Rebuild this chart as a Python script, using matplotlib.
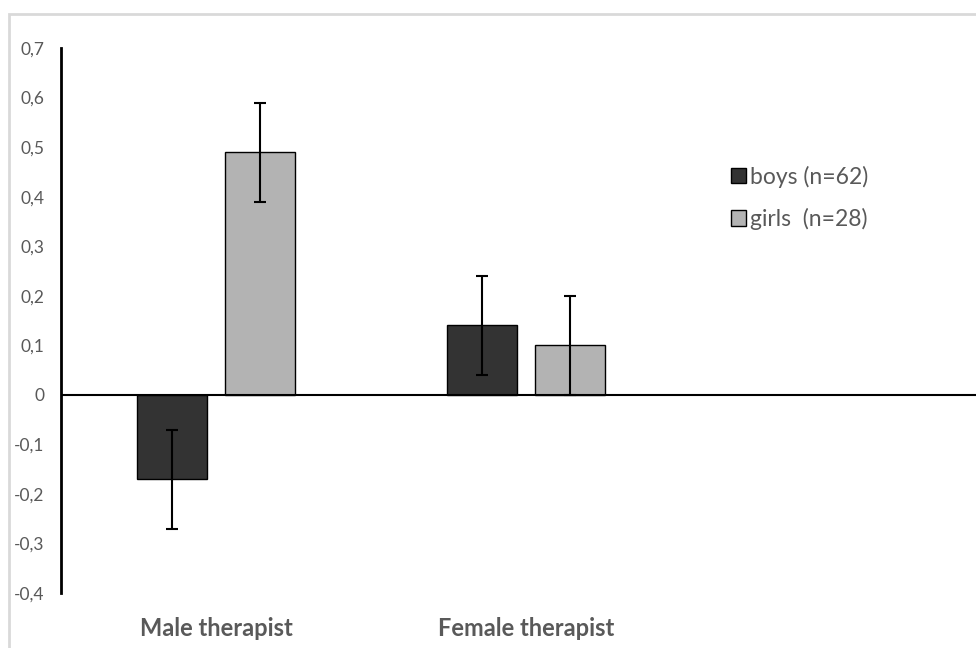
import numpy as np
import matplotlib.pyplot as plt
from matplotlib.patches import Rectangle

categories = ["Male therapist", "Female therapist", ""]
boys = [-0.17, 0.14]
girls = [0.49, 0.10]
boys_err = [0.10, 0.10]
girls_err = [0.10, 0.10]
yticks = [-0.4, -0.3, -0.2, -0.1, 0.0, 0.1, 0.2, 0.3, 0.4, 0.5, 0.6, 0.7]
ytick_labels = ["-0,4", "-0,3", "-0,2", "-0,1", "0", "0,1", "0,2", "0,3", "0,4", "0,5", "0,6", "0,7"]

plt.rcParams['font.family'] = ['Lato', 'DejaVu Sans']
grey = "#595959"

fig = plt.figure(figsize=(9.76, 6.48), dpi=100)
W, H = 976, 648
# light outer chart border like the spreadsheet export
fig.patches.append(Rectangle((9 / W, -0.1), 1.2, 1.1 - 14 / H, transform=fig.transFigure,
                             fill=False, edgecolor="#d9d9d9", lw=2))

ax = fig.add_axes([61 / W, 55 / H, 930 / W, 545 / H])

x = np.arange(len(boys))
w = 0.226
off = 0.141
ax.bar(x - off, boys, w, color="#333333", edgecolor="black", lw=1,
       yerr=boys_err, capsize=4, error_kw=dict(ecolor="black", elinewidth=1.5, capthick=1.5),
       label="boys (n=62)", zorder=2)
ax.bar(x + off, girls, w, color="#b3b3b3", edgecolor="black", lw=1,
       yerr=girls_err, capsize=4, error_kw=dict(ecolor="black", elinewidth=1.5, capthick=1.5),
       label="girls  (n=28)", zorder=2)
ax.axhline(0, color="black", lw=1.5, zorder=3)

ax.set_xlim(-0.5, 2.5)
ax.set_ylim(-0.4, 0.7)
ax.set_yticks(yticks)
ax.set_yticklabels(ytick_labels, color=grey, fontsize=12.5)
ax.set_xticks(np.arange(len(categories)))
ax.set_xticklabels(categories, color=grey, fontsize=17, fontweight="bold")
ax.tick_params(axis="y", length=0, pad=12)
ax.tick_params(axis="x", length=0, pad=17)

for s in ["top", "right", "bottom"]:
    ax.spines[s].set_visible(False)
ax.spines["left"].set_linewidth(2)

leg = ax.legend(loc="upper left", bbox_to_anchor=(0.698, 0.822), frameon=False,
                fontsize=16.5, handlelength=0.65, handleheight=0.65, handletextpad=0.2,
                labelspacing=0.88, labelcolor=grey)

fig.savefig("out.png", dpi=100)
